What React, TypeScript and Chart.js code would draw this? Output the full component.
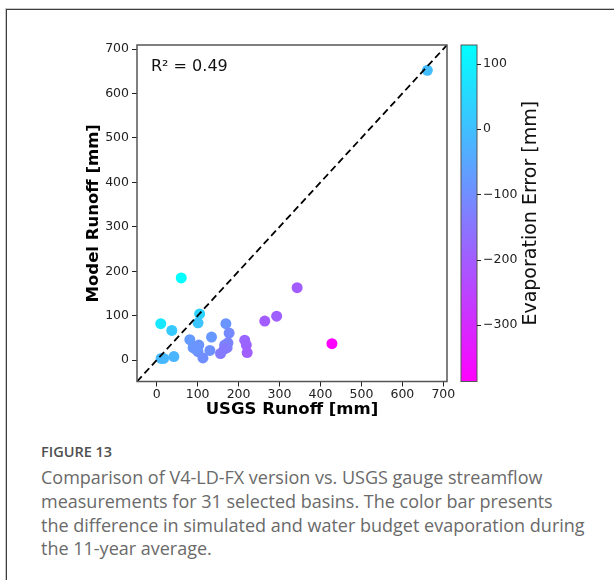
import React, { useEffect, useRef } from 'react';
import { Chart, registerables } from 'chart.js';

Chart.register(...registerables);

// Per-basin 11-year averages (mm)
const usgsRunoff = [60, 343, 10, 37, 105, 101, 169, 177, 134, 81, 264, 293, 215, 219, 221, 428, 11, 17, 42, 89, 103, 101, 113, 130, 156, 166, 174, 172, 661, 95, 165];
const modelRunoff = [185, 163, 82, 67, 104, 84, 82, 61, 52, 46, 88, 99, 45, 34, 17, 37, 4, 4, 8, 28, 34, 19, 5, 22, 15, 34, 39, 28, 652, 25, 25];
const evapError = [129, -200, 85, 20, 40, 10, -85, -110, -80, -75, -200, -195, -180, -185, -195, -387, -10, -15, -20, -80, -90, -90, -100, -95, -140, -125, -120, -130, -5, -85, -140];

const axisLimits = [-48, 709];
const runoffTicks = [0, 100, 200, 300, 400, 500, 600, 700];
const colorbarTicks = [-300, -200, -100, 0, 100];
const r2Label = 'R\u00b2 = 0.49';

const captionTitle = 'FIGURE 13';
const captionLines = [
  'Comparison of V4-LD-FX version vs. USGS gauge streamflow',
  'measurements for 31 selected basins. The color bar presents',
  'the difference in simulated and water budget evaporation during',
  'the 11-year average.',
];

const evapMin = Math.min(...evapError);
const evapMax = Math.max(...evapError);

// reversed "cool" colormap: high values cyan, low values magenta
function coolR(v: number): string {
  const t = Math.max(0, Math.min(1, (v - evapMin) / (evapMax - evapMin)));
  const r = Math.round((1 - t) * 255);
  const g = Math.round(t * 255);
  return `rgb(${r},${g},255)`;
}

const minusFmt = (v: number) => (v < 0 ? '\u2212' + Math.abs(v) : String(v));

const framePlugin = {
  id: 'frameAndColorbar',
  afterDraw(chart: any) {
    const { ctx, chartArea } = chart;
    ctx.save();
    // plot spines
    ctx.strokeStyle = '#555';
    ctx.lineWidth = 1.5;
    ctx.strokeRect(chartArea.left, chartArea.top, chartArea.right - chartArea.left, chartArea.bottom - chartArea.top);

    // R² annotation
    ctx.fillStyle = '#111';
    ctx.font = '16px "DejaVu Sans"';
    ctx.textAlign = 'left';
    ctx.textBaseline = 'middle';
    ctx.fillText(r2Label, chartArea.left + 14, chartArea.top + 22);

    // colour bar
    const cb = chart.scales.cb;
    const yTop = cb.getPixelForValue(evapMax);
    const yBot = cb.getPixelForValue(evapMin);
    const x0 = cb.left + 14;
    const w = 16;
    const grad = ctx.createLinearGradient(0, yTop, 0, yBot);
    grad.addColorStop(0, coolR(evapMax));
    grad.addColorStop(1, coolR(evapMin));
    ctx.fillStyle = grad;
    ctx.fillRect(x0, yTop, w, yBot - yTop);
    ctx.strokeStyle = '#555';
    ctx.lineWidth = 1;
    ctx.strokeRect(x0, yTop, w, yBot - yTop);
    ctx.strokeStyle = '#222';
    for (const v of colorbarTicks) {
      const y = Math.round(cb.getPixelForValue(v)) + 0.5;
      ctx.beginPath();
      ctx.moveTo(x0 + w, y);
      ctx.lineTo(x0 + w + 4, y);
      ctx.stroke();
    }
    // colour bar label
    ctx.translate(cb.left + 84, (yTop + yBot) / 2);
    ctx.rotate(-Math.PI / 2);
    ctx.fillStyle = '#111';
    ctx.font = '19px "DejaVu Sans"';
    ctx.textAlign = 'center';
    ctx.textBaseline = 'middle';
    ctx.fillText('Evaporation Error [mm]', 0, 0);
    ctx.restore();
  },
};

function RunoffScatter() {
  const ref = useRef<HTMLCanvasElement | null>(null);

  useEffect(() => {
    if (!ref.current) return;
    const points = usgsRunoff.map((x, i) => ({ x, y: modelRunoff[i] }));
    const identity = axisLimits.map((v) => ({ x: v, y: v }));
    const tickFont = { family: '"DejaVu Sans"', size: 12.5 };
    const tickGrid = { drawOnChartArea: false, drawTicks: true, tickLength: 5, color: '#222', lineWidth: 1 };

    const chart = new Chart(ref.current, {
      type: 'scatter',
      data: {
        datasets: [
          {
            type: 'line',
            data: identity,
            borderColor: '#000',
            borderWidth: 1.8,
            borderDash: [7, 4],
            pointRadius: 0,
            fill: false,
          } as any,
          {
            type: 'scatter',
            data: points,
            backgroundColor: evapError.map(coolR),
            borderWidth: 0,
            pointRadius: 5.5,
            pointHoverRadius: 5.5,
          },
        ],
      },
      options: {
        animation: false,
        responsive: false,
        events: [],
        layout: { padding: { top: 45, left: 0, right: 0, bottom: 0 } },
        plugins: { legend: { display: false }, tooltip: { enabled: false } },
        scales: {
          x: {
            type: 'linear',
            min: axisLimits[0],
            max: axisLimits[1],
            afterBuildTicks: (s: any) => { s.ticks = runoffTicks.map((value) => ({ value })); },
            afterFit: (s: any) => { s.height = 42; },
            ticks: { font: tickFont, color: '#222', padding: 1, maxRotation: 0 },
            grid: tickGrid,
            border: { display: false },
            title: {
              display: true,
              text: 'USGS Runoff [mm]',
              color: '#000',
              font: { family: '"DejaVu Sans"', size: 16.5, weight: 'bold' },
              padding: { top: 0, bottom: 4 },
            },
          },
          y: {
            type: 'linear',
            min: axisLimits[0],
            max: axisLimits[1],
            afterBuildTicks: (s: any) => { s.ticks = runoffTicks.map((value) => ({ value })); },
            afterFit: (s: any) => { s.width = 137; },
            ticks: { font: tickFont, color: '#222', padding: 3 },
            grid: tickGrid,
            border: { display: false },
            title: {
              display: true,
              text: 'Model Runoff [mm]',
              color: '#000',
              font: { family: '"DejaVu Sans"', size: 16.5, weight: 'bold' },
              padding: { top: 84, bottom: 0 },
            },
          },
          cb: {
            type: 'linear',
            axis: 'y',
            position: 'right',
            min: evapMin,
            max: evapMax,
            afterBuildTicks: (s: any) => { s.ticks = colorbarTicks.map((value) => ({ value })); },
            afterFit: (s: any) => { s.width = 167; },
            ticks: { font: tickFont, color: '#222', padding: 36, callback: (v: any) => minusFmt(Number(v)) },
            grid: { display: false, drawTicks: false, tickLength: 0 },
            border: { display: false },
          },
        },
      } as any,
      plugins: [framePlugin],
    });
    return () => chart.destroy();
  }, []);

  return <canvas ref={ref} width={614} height={425} style={{ position: 'absolute', left: 0, top: 0, width: 614, height: 425 }} />;
}

export default function App() {
  return (
    <div style={{ position: 'absolute', left: 0, top: 0, width: 614, height: 580, overflow: 'hidden', background: '#fff' }}>
      <div
        style={{
          position: 'absolute',
          left: 6,
          top: 9,
          width: 700,
          height: 700,
          borderTop: '1px solid #3c3c3c',
          borderLeft: '1px solid #3c3c3c',
          boxShadow: '-1px -1px 0 #c8c8c8',
        }}
      />
      <RunoffScatter />
      <div style={{ position: 'absolute', left: 41, top: 442, fontFamily: '"Open Sans", sans-serif' }}>
        <div style={{ fontSize: 14.5, lineHeight: '20px', color: '#505050', fontWeight: 600 }}>{captionTitle}</div>
        <div style={{ fontSize: 18, lineHeight: '23.8px', color: '#6a6a6a', marginTop: 4 }}>
          {captionLines.map((line, i) => (
            <div key={i} style={{ whiteSpace: 'nowrap' }}>{line}</div>
          ))}
        </div>
      </div>
    </div>
  );
}
